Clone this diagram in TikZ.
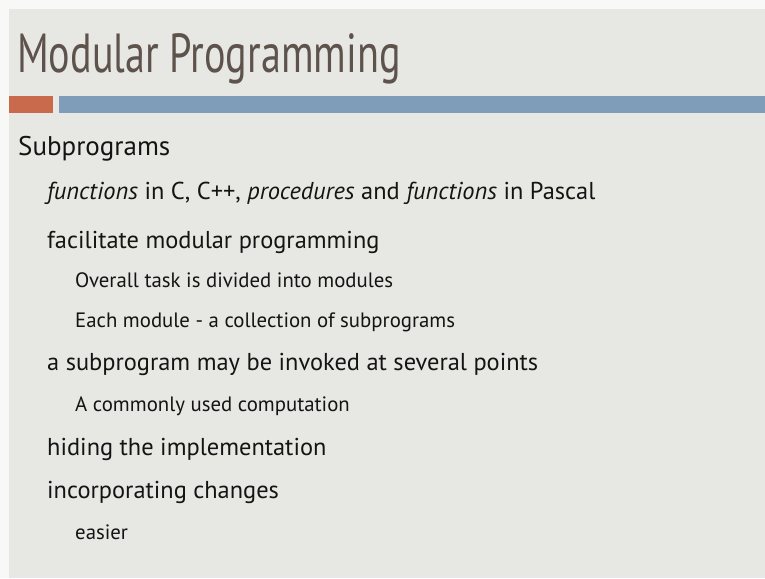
\documentclass[tikz,border=0pt]{standalone}
\usepackage{fontspec}
\setmainfont{PT Sans}
\newfontfamily\titlefont[FakeStretch=0.73]{PT Sans}
\definecolor{slidebg}{HTML}{E7E8E4}
\definecolor{edgebg}{HTML}{F8F8F7}
\definecolor{titlecol}{HTML}{5E534C}
\definecolor{bodycol}{HTML}{141414}
\definecolor{accentorange}{HTML}{C86A4B}
\definecolor{accentblue}{HTML}{7F9DB9}
\tikzset{
  x=1pt, y=-1pt,
  item/.style={anchor=base west, inner sep=0pt, text=bodycol},
  lvlzero/.style={item, font=\fontsize{27}{31}\selectfont},
  lvlone/.style={item, font=\fontsize{24.4}{28}\selectfont},
  lvltwo/.style={item, font=\fontsize{20.8}{24}\selectfont},
}
\begin{document}
\begin{tikzpicture}
  % page and slide background
  \fill[edgebg] (0,0) rectangle (765,578);
  \fill[slidebg] (9,9) rectangle (765,578);
  \useasboundingbox (0,0) rectangle (765,578);

  % title
  \node[anchor=base west, inner sep=0pt, text=titlecol,
        font=\titlefont\fontsize{55}{60}\selectfont] (title) at (17,73) {Modular Programming};

  % accent bars under the title
  \fill[accentorange] (9,96) rectangle (53,113);
  \fill[accentblue] (59,96) rectangle (765,113);

  % bullet text
  \node[lvlzero] (sub) at (18,155) {Subprograms};
  \node[lvlone] (fn) at (47,199) {\textit{functions} in C, C++, \textit{procedures} and \textit{functions} in Pascal};
  \node[lvlone] (fac) at (47,248) {facilitate modular programming};
  \node[lvltwo] (ovr) at (75,287) {Overall task is divided into modules};
  \node[lvltwo] (each) at (75,327) {Each module - a collection of subprograms};
  \node[lvlone] (inv) at (47,370) {a subprogram may be invoked at several points};
  \node[lvltwo] (com) at (75,411) {A commonly used computation};
  \node[lvlone] (hid) at (47,455) {hiding the implementation};
  \node[lvlone] (inc) at (47,498) {incorporating changes};
  \node[lvltwo] (eas) at (75,539) {easier};
\end{tikzpicture}
\end{document}
